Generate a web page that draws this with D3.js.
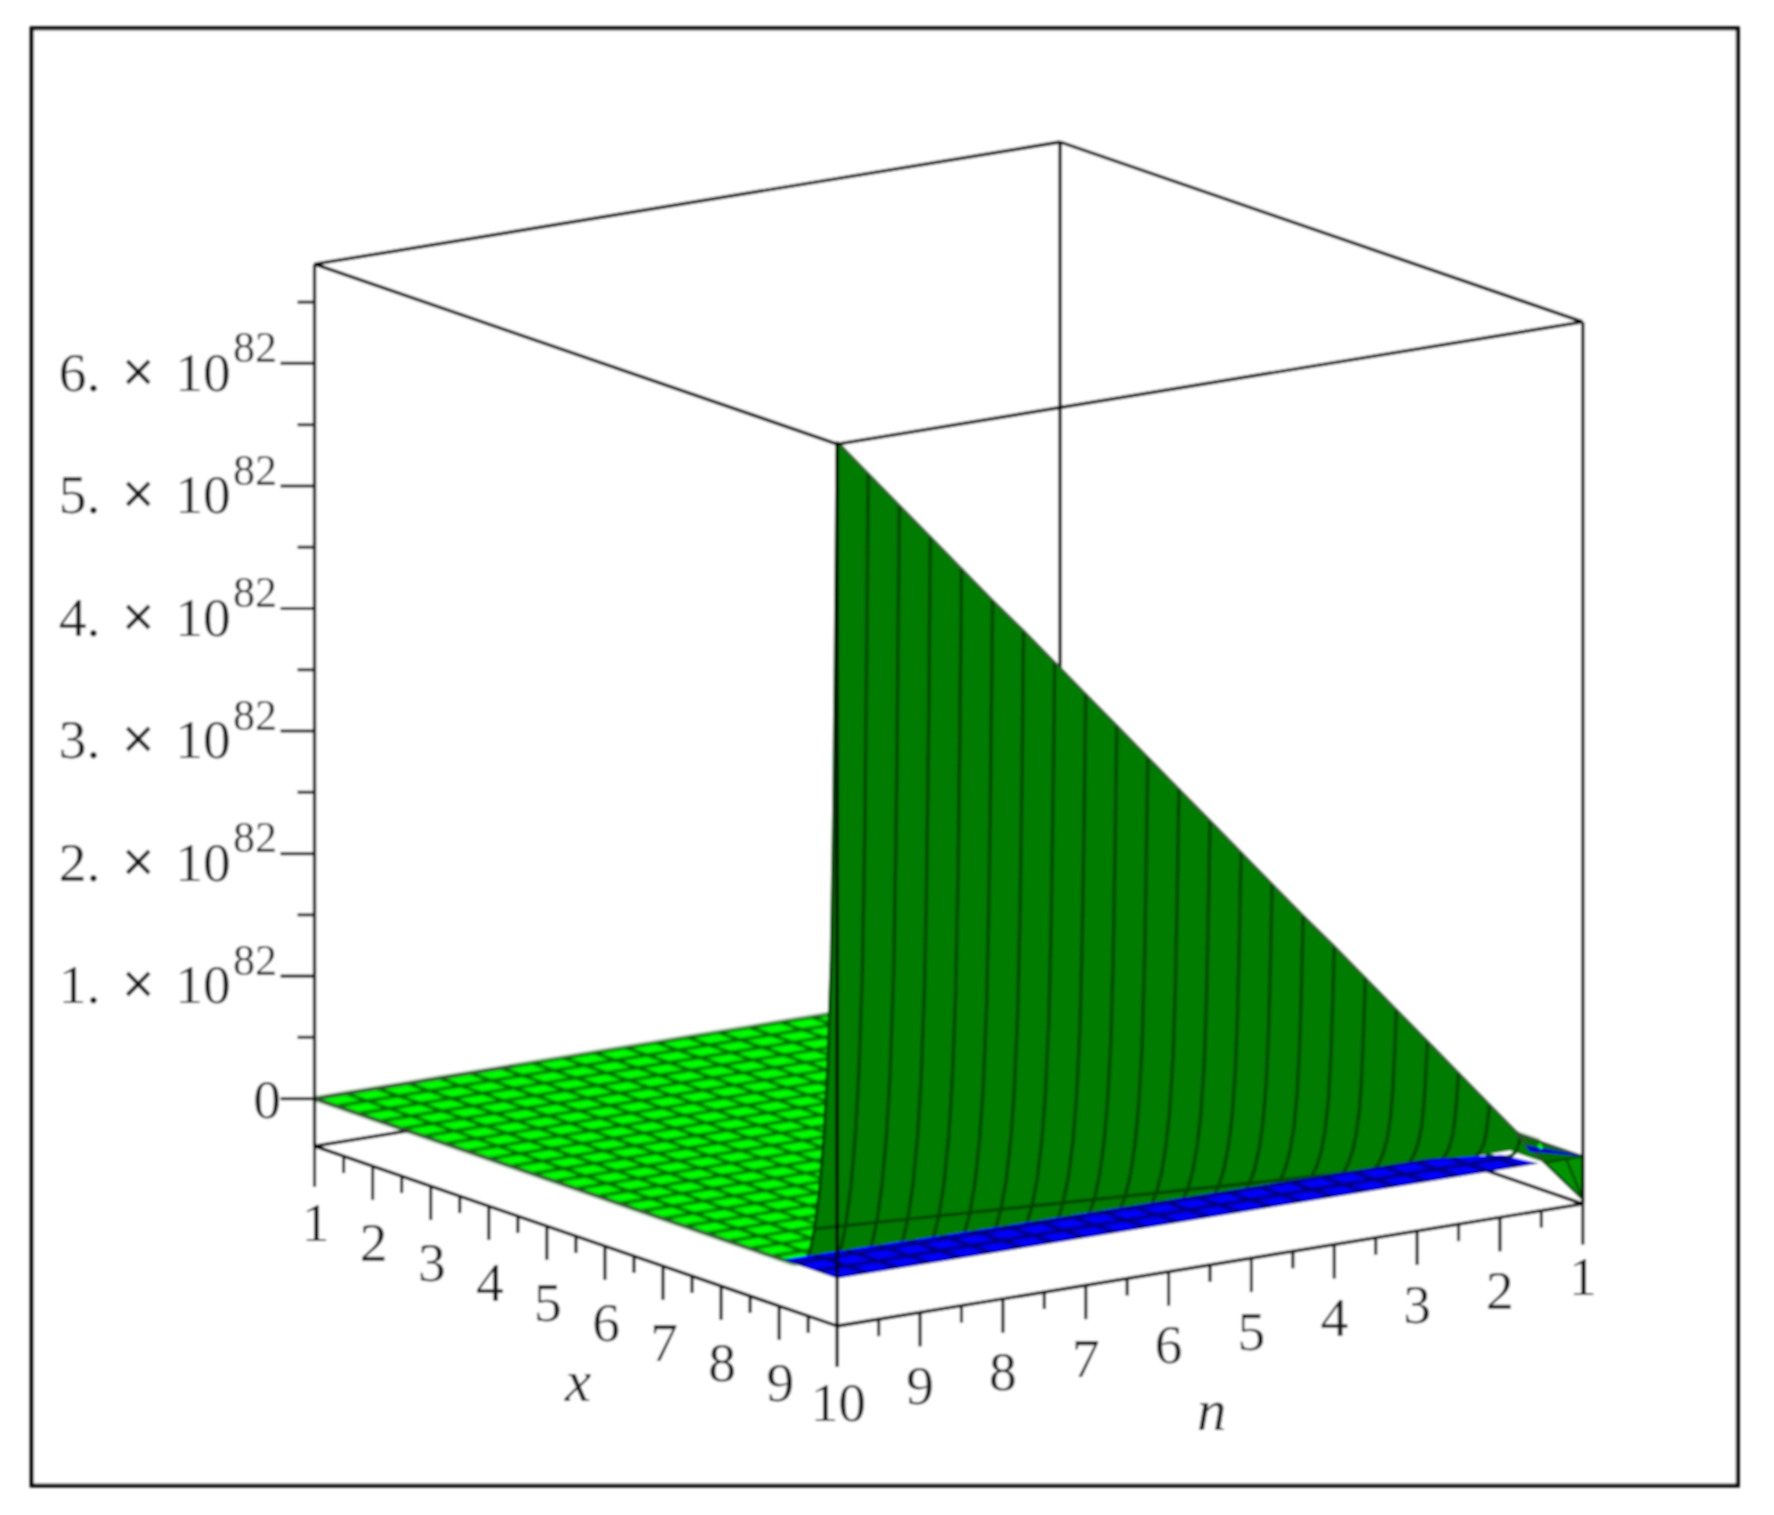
<!DOCTYPE html>
<html><head><meta charset="utf-8">
<script src="https://cdn.jsdelivr.net/npm/d3@7"></script>
<style>html,body{margin:0;padding:0;background:#fff}svg{display:block}text{font-family:"Liberation Serif",serif;fill:#161616}</style>
</head><body>
<script>
// Values
const xTicks = [1,2,3,4,5,6,7,8,9,10];
const nTicks = [10,9,8,7,6,5,4,3,2,1];
const zMajor = [0,1,2,3,4,5,6];
const zMinor = [0.5,1.5,2.5,3.5,4.5,5.5,6.5];
const axisMinorOffset = 0.5;
const zTop = 6.81;
const nGrid = [10,9.625,9.25,8.875,8.5,8.125,7.75,7.375,7,6.625,6.25,5.875,5.5,5.125,4.75,4.375,4,3.625,3.25,2.875,2.5,2.125,1.75,1.375,1];
const xGrid = [1,1.375,1.75,2.125,2.5,2.875,3.25,3.625,4,4.375,4.75,5.125,5.5,5.875,6.25,6.625,7,7.375,7.75,8.125,8.5,8.875,9.25];
const blueXGrid = [8.875,9.25,9.625,10];
// back edge of the visible blue strip
const blueBackX = [9.05,9.15,9.22,9.5,10];
const blueBackN = [10,7.08,2.32,1.63,1.53];
// small blue piece at the far corner
const cornerBlueX = [9.3,9.9,10,9.55];
const cornerBlueN = [1.2,1,1,1.33];
// height of the wall along x = 10, in units of 10^82, one per nGrid entry
const wallTop = [6.83,6.53,6.23,5.93,5.63,5.33,5.04,4.74,4.44,4.14,3.84,3.54,3.24,2.94,2.64,2.34,2.05,1.75,1.45,1.15,0.85,0.55,0.25,-0.05,-0.35];
// drop-off of the surface moving away from x = 10
const profileX = [10,9.97,9.94,9.9,9.84,9.78,9.7,9.61,9.53,9.4];
const profileFrac = [1,0.75,0.55,0.38,0.25,0.17,0.10,0.05,0.02,0];
const bandIndex = 7;
const zeroN = 1.46;

const W = 1568, H = 1339;
const svg = d3.select("body").append("svg").attr("width",1774).attr("height",1515)
  .attr("viewBox",`0 0 ${W} ${H}`);
const defs = svg.append("defs");
function blurFilter(id,s){
  defs.append("filter").attr("id",id).attr("x","-2%").attr("y","-2%").attr("width","104%").attr("height","104%")
    .append("feGaussianBlur").attr("stdDeviation",s);
}
blurFilter("soft",0.8);
blurFilter("softer",1.0);
const root = svg.append("g").attr("filter","url(#soft)");

// Oblique projection built from linear scales
const xPx = d3.scaleLinear().domain([1,10]).range([0,462]);
const xPy = d3.scaleLinear().domain([1,10]).range([0,159]);
const nPx = d3.scaleLinear().domain([10,1]).range([0,659]);
const nPy = d3.scaleLinear().domain([10,1]).range([0,-108]);
const zPy = d3.scaleLinear().domain([0,1]).range([42,150.3]);
const originX = 278, originY = 1013;
const proj = (x,n,z) => [originX + xPx(x) + nPx(n), originY + xPy(x) + nPy(n) - zPy(z)];
const baseP = (x,n) => [originX + xPx(x) + nPx(n), originY + xPy(x) + nPy(n)];
const line = d3.line();
const BLACK = "#000";

root.append("rect").attr("x",28).attr("y",25).attr("width",1508).attr("height",1288)
  .attr("fill","#fff").attr("stroke","#000").attr("stroke-width",3.6);

function seg(a,b,w,c){ root.append("path").attr("d",line([a,b])).attr("fill","none")
  .attr("stroke",c||BLACK).attr("stroke-width",w||3); }

// back edges of the box
seg(proj(1,1,-0.388),proj(1,1,zTop));
seg(baseP(1,10),baseP(1,1));
seg(baseP(10,1),baseP(1,1));

function mesh(xs,ns,fill,stroke,w,clip){
  let g = root.append("g");
  if(clip) g.attr("clip-path",clip);
  g = g.append("g").attr("filter","url(#softer)");
  const x0=d3.min(xs),x1=d3.max(xs),n0=d3.min(ns),n1=d3.max(ns);
  g.append("path").attr("d",line([proj(x0,n0,0),proj(x1,n0,0),proj(x1,n1,0),proj(x0,n1,0)])+"Z")
    .attr("fill",fill).attr("stroke","none");
  xs.forEach(x=>g.append("path").attr("d",line(ns.map(n=>proj(x,n,0)))).attr("fill","none").attr("stroke",stroke).attr("stroke-width",w));
  ns.forEach(n=>g.append("path").attr("d",line(xs.map(x=>proj(x,n,0)))).attr("fill","none").attr("stroke",stroke).attr("stroke-width",w));
  return g;
}
// bright green plane at z = 0
mesh(xGrid,nGrid,"#00ff00","#006000",3);

// the steep surface
const pos = nGrid.map((n,i)=>({n,z:wallTop[i]})).filter(d=>d.z>0);
const wall = root.append("g");
const lastX = profileX[profileX.length-1];
const silhouette = pos.map(d=>proj(10,d.n,d.z)).concat([proj(10,zeroN,0)],[proj(lastX,zeroN,0)],
  pos.slice().reverse().map(d=>proj(lastX,d.n,0)));
const leftEdge = profileX.map((x,i)=>proj(x,nGrid[0],wallTop[0]*profileFrac[i]));
wall.append("path").attr("d",line(silhouette.concat(leftEdge.slice().reverse()))+"Z").attr("fill","#007c00");
pos.forEach(d=>{
  wall.append("path").attr("d",line(profileX.map((x,i)=>proj(x,d.n,d.z*profileFrac[i]))))
    .attr("fill","none").attr("stroke","#004a00").attr("stroke-width",3.2);
});
wall.append("path").attr("d",line(pos.map(d=>proj(profileX[bandIndex],d.n,d.z*profileFrac[bandIndex]))))
  .attr("fill","none").attr("stroke","#004a00").attr("stroke-width",3);
wall.append("path").attr("d",line(pos.map(d=>proj(10,d.n,d.z)).concat([proj(10,zeroN,0)])))
  .attr("fill","none").attr("stroke","#2f5f2f").attr("stroke-width",2);

// blue strip of the plane along x = 10
const blueClip = blueBackX.map((x,i)=>proj(x,blueBackN[i],0)).concat([proj(10,10,0)]);
defs.append("clipPath").attr("id","blueclip").append("path").attr("d",line(blueClip)+"Z");
mesh(blueXGrid,nGrid,"#0000ff","#000070",3,"url(#blueclip)");

// far corner of the plane, past the surface
root.append("path").attr("d",line([proj(8.85,1,0),proj(10,1,0),proj(10,zeroN,0)])+"Z")
  .attr("fill","#007000").attr("stroke","#304a30").attr("stroke-width",2);
root.append("path").attr("d",line(cornerBlueX.map((x,i)=>proj(x,cornerBlueN[i],0)))+"Z")
  .attr("fill","#0000c8");
seg(proj(9.35,1.08,0),proj(9.5,1.14,0),3,"#00ff00");

// part of the surface below the plane, at the right-hand corner
const cornerZ = wallTop[wallTop.length-1];
root.append("path").attr("d",line([proj(10,zeroN,0),proj(10,1,cornerZ),proj(10,1,0)])+"Z")
  .attr("fill","#009400").attr("stroke","#005200").attr("stroke-width",2.4);
seg(proj(10,1,cornerZ),proj(10,1.2,0),2.4,"#005200");

// plane edges
seg(proj(1,10,0),proj(9.05,10,0),2,"#3a4a3a");
seg(proj(1,10,0),proj(1,7.6,0),2,"#3a4a3a");

// front and side edges of the box
seg(baseP(1,10),proj(1,10,zTop));
seg(baseP(10,10),proj(10,10,zTop));
seg(baseP(10,1),proj(10,1,zTop));
seg(proj(1,10,zTop),proj(10,10,zTop));
seg(proj(10,10,zTop),proj(10,1,zTop));
seg(proj(10,1,zTop),proj(1,1,zTop));
seg(proj(1,1,zTop),proj(1,10,zTop));
seg(baseP(1,10),baseP(10,10));
seg(baseP(10,10),baseP(10,1));

// z axis ticks and labels
zMajor.forEach(z=>{ const p=proj(1,10,z); seg([p[0]-30,p[1]],p,2.8,"#111"); });
zMinor.forEach(z=>{ const p=proj(1,10,z); seg([p[0]-15,p[1]],p,2.8,"#222"); });
zMajor.forEach(z=>{
  const y=proj(1,10,z)[1];
  if(z===0){
    root.append("text").attr("x",236).attr("y",y+17).attr("text-anchor","middle").attr("font-size",49).text("0");
    return;
  }
  const t=root.append("text").attr("y",y+24).attr("font-size",49);
  t.append("tspan").attr("x",52).text(z+".");
  t.append("tspan").attr("x",108).attr("font-size",50).attr("stroke","#111").attr("stroke-width",1).text("×");
  t.append("tspan").attr("x",155).text("10");
  t.append("tspan").attr("x",206).attr("y",y-1).attr("font-size",39).text("82");
});

// x axis
xTicks.forEach(v=>{ const p=baseP(v,10); seg(p,[p[0],p[1]+(v===1||v===10?36:30)],2.8,"#111");
  if(v<10){ const m=baseP(v+axisMinorOffset,10); seg(m,[m[0],m[1]+15],2.8,"#111"); }
  root.append("text").attr("x",p[0]+1).attr("y",p[1]+84).attr("text-anchor","middle").attr("font-size",49).text(v);
});
// n axis
nTicks.forEach(v=>{ const p=baseP(10,v); seg(p,[p[0],p[1]+(v===1||v===10?36:30)],2.8,"#111");
  if(v>1){ const m=baseP(10,v-axisMinorOffset); seg(m,[m[0],m[1]+15],2.8,"#111"); }
  if(v<10) root.append("text").attr("x",p[0]).attr("y",p[1]+81).attr("text-anchor","middle").attr("font-size",49).text(v);
});
root.append("text").attr("x",511).attr("y",1238).attr("text-anchor","middle").attr("font-size",52).attr("font-style","italic").text("x");
root.append("text").attr("x",1071).attr("y",1264).attr("text-anchor","middle").attr("font-size",52).attr("font-style","italic").text("n");
</script>
</body></html>
